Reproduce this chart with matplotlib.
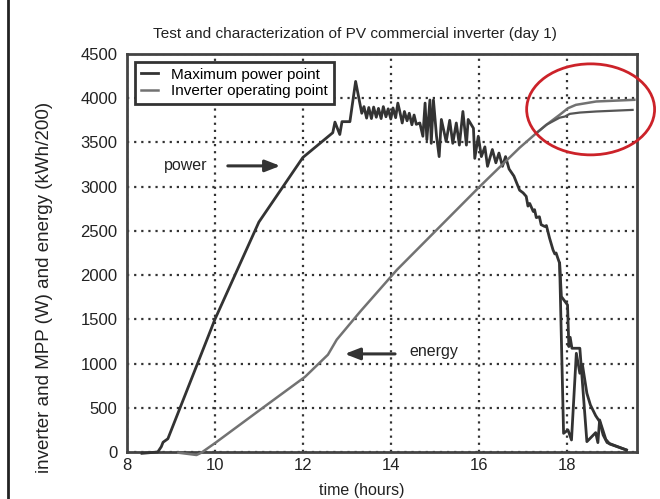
import matplotlib
matplotlib.use("Agg")
import matplotlib.pyplot as plt
from matplotlib.patches import Ellipse, Rectangle

plt.rcParams['font.family'] = ['Liberation Sans', 'DejaVu Sans']

# ---------------- data ----------------
# Maximum power point (W), main path
power_t = [8.34, 8.70, 8.78, 8.82, 8.93, 9.60, 10.0, 11.0, 12.0, 12.68, 12.73, 12.84, 12.89, 13.07,
           13.20, 13.34, 13.39, 13.45, 13.50, 13.56, 13.61, 13.67, 13.72, 13.78, 13.83, 13.89, 13.94,
           14.00, 14.05, 14.11, 14.16, 14.20, 14.26, 14.31, 14.37, 14.42, 14.48, 14.53, 14.58, 14.66,
           14.73, 14.78, 14.82, 14.89, 14.92, 14.97, 15.04, 15.10, 15.15, 15.26, 15.34, 15.41, 15.49,
           15.56, 15.64, 15.72, 15.76, 15.88, 15.91, 15.99, 16.06, 16.14, 16.20, 16.31, 16.39, 16.46,
           16.54, 16.61, 16.69, 16.80, 16.93, 17.01, 17.08, 17.12, 17.16, 17.24, 17.27, 17.31, 17.38,
           17.42, 17.50, 17.54, 17.61, 17.69, 17.73, 17.76, 17.80, 17.84, 17.88, 18.02, 18.05, 18.08,
           18.12, 18.30, 18.46, 18.66, 18.71, 18.75, 18.89, 18.98, 19.36]
power_w = [-15, 0, 60, 110, 150, 995, 1500, 2600, 3330, 3610, 3730, 3590, 3735, 3735,
           4190, 3830, 3905, 3775, 3895, 3770, 3900, 3785, 3885, 3770, 3905, 3790, 3880,
           3765, 3890, 3780, 3945, 3860, 3720, 3850, 3745, 3830, 3700, 3810, 3705, 3720,
           3570, 3945, 3530, 3980, 3490, 3980, 3570, 3340, 3760, 3510, 3750, 3490, 3720,
           3470, 3850, 3470, 3760, 3660, 3320, 3570, 3340, 3450, 3230, 3420, 3270, 3380,
           3230, 3340, 3200, 3120, 2960, 2930, 2890, 2780, 2810, 2720, 2740, 2650, 2660,
           2570, 2550, 2560, 2420, 2285, 2240, 2250, 2190, 2134, 1757, 1663, 1192, 1297,
           1173, 1173, 117, 219, 106, 362, 143, 90, 23]

# second power trace in the evening drop-off
power2_t = [17.84, 17.93, 18.03, 18.11, 18.22, 18.30, 18.36, 18.46, 18.54, 18.66, 18.75, 18.83, 18.92, 19.36]
power2_w = [2134, 211, 249, 136, 1116, 890, 984, 664, 532, 411, 344, 192, 106, 23]

# energy (kWh/200)
energy_t = [9.17, 9.58, 9.69, 10.0, 11.09, 12.05, 12.57, 12.77, 13.30, 14.14, 16.02, 16.93, 17.31,
            17.54, 17.84, 18.03, 18.21, 18.67, 19.54]
energy_v = [-8, -34, -8, 100, 500, 850, 1100, 1270, 1585, 2060, 3000, 3440, 3605,
            3700, 3812, 3887, 3925, 3963, 3982]

energy2_t = [17.31, 17.54, 17.84, 17.96, 18.07, 18.30, 18.67, 19.50]
energy2_v = [3605, 3700, 3780, 3793, 3823, 3838, 3850, 3868]

x_ticks = [8, 10, 12, 14, 16, 18]
y_ticks = [0, 500, 1000, 1500, 2000, 2500, 3000, 3500, 4000, 4500]

# ---------------- figure ----------------
fig = plt.figure(figsize=(6.6, 4.99), dpi=100)
ax = fig.add_axes([127/660, 1-452/499, 510/660, 398/499])

dark = '#333333'
gray = '#727272'

l1, = ax.plot(power_t, power_w, color=dark, lw=2.0, clip_on=False, zorder=3)
ax.plot(power2_t, power2_w, color=dark, lw=2.0, zorder=3)
l2, = ax.plot(energy_t, energy_v, color=gray, lw=1.8, clip_on=False, zorder=3)
ax.plot(energy2_t, energy2_v, color='#555555', lw=1.6, zorder=3)

ax.set_xlim(8, 19.6)
ax.set_ylim(0, 4500)
ax.set_xticks(x_ticks)
ax.set_yticks(y_ticks)
ax.tick_params(length=0, labelsize=12, colors='#222222')
ax.tick_params(axis='y', pad=7)
ax.tick_params(axis='x', pad=4)
ax.grid(True, color=dark, linestyle=(0, (1, 2.2)), lw=1.6)
for s in ax.spines.values():
    s.set_color('#444444')
    s.set_linewidth(2)

leg = ax.legend([l1, l2], ['Maximum power point', 'Inverter operating point'],
                loc='upper left', fontsize=11, fancybox=False, framealpha=1,
                edgecolor=dark, handlelength=1.1, handletextpad=0.9,
                borderaxespad=0.5, borderpad=0.4, labelspacing=0.15)
leg.get_frame().set_linewidth(2)
leg.set_zorder(6)

# annotations
ax.annotate('', xy=(11.55, 3235), xytext=(10.23, 3235),
            arrowprops=dict(arrowstyle='-|>,head_length=0.9,head_width=0.35', color=dark, lw=2.2))
ax.text(9.84, 3235, 'power', ha='right', va='center', fontsize=11.5, color='#222222')
ax.annotate('', xy=(12.89, 1109), xytext=(14.16, 1109),
            arrowprops=dict(arrowstyle='-|>,head_length=0.9,head_width=0.35', color=dark, lw=2.2))
ax.text(14.43, 1131, 'energy', ha='left', va='center', fontsize=11.5, color='#222222')

ell = Ellipse((18.545, 3874), width=2.91, height=1029, fill=False, edgecolor='#cc2229',
              lw=2, clip_on=False, zorder=5)
ax.add_patch(ell)

# texts
fig.text(355/660, 1-34/499, 'Test and characterization of PV commercial inverter (day 1)',
         ha='center', va='center', fontsize=11.1, color='#222222')
fig.text(362/660, 1-490/499, 'time (hours)', ha='center', va='center', fontsize=11.5, color='#222222')
fig.text(45/660, 1-287/499, 'inverter and MPP (W) and energy (kWh/200)', ha='center', va='center',
         rotation=90, fontsize=13.5, color='#222222')

# outer frame
fig.patches.append(Rectangle((8/660, -0.2), 1.2, 1.2 + (1-11/499), transform=fig.transFigure,
                             fill=False, edgecolor='#222222', lw=2))

fig.savefig('out.png', dpi=100)
